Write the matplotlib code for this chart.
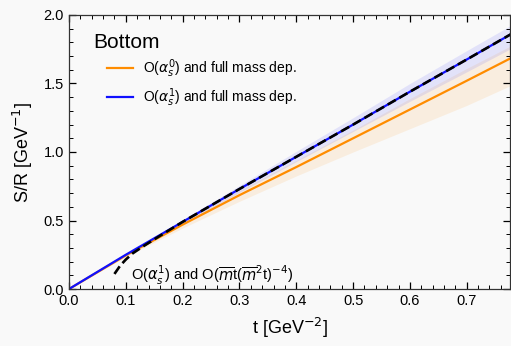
import matplotlib
matplotlib.use("Agg")
import matplotlib.pyplot as plt
from matplotlib.ticker import MultipleLocator

plt.rcParams['font.family'] = ['Liberation Sans', 'DejaVu Sans']
plt.rcParams['mathtext.fontset'] = 'dejavusans'

# values
t = [0.0, 0.1, 0.2, 0.3, 0.4, 0.5, 0.6, 0.7, 0.78]
sr_as0 = [0.0, 0.245, 0.47, 0.685, 0.89, 1.10, 1.31, 1.52, 1.69]
as0_lo = [0.0, 0.235, 0.445, 0.64, 0.825, 1.0, 1.17, 1.34, 1.49]
as0_hi = [0.0, 0.255, 0.49, 0.72, 0.94, 1.16, 1.39, 1.61, 1.78]
sr_as1 = [0.0, 0.25, 0.49, 0.73, 0.965, 1.20, 1.44, 1.675, 1.865]
as1_lo = [0.0, 0.245, 0.475, 0.705, 0.93, 1.15, 1.37, 1.585, 1.76]
as1_hi = [0.0, 0.255, 0.505, 0.755, 1.005, 1.25, 1.50, 1.74, 1.93]

t_exp = [0.08, 0.09, 0.10, 0.112, 0.13, 0.153, 0.2, 0.3, 0.4, 0.5, 0.6, 0.7, 0.78]
sr_exp = [0.11, 0.17, 0.215, 0.26, 0.31, 0.37, 0.49, 0.73, 0.965, 1.20, 1.44, 1.675, 1.865]

bg = '#f9f9f9'
fig = plt.figure(figsize=(5.11, 3.46), dpi=100, facecolor=bg)
ax = fig.add_axes([0.135, 0.1647, 0.864, 0.792])
ax.set_facecolor(bg)

ax.fill_between(t, as0_lo, as0_hi, color='#ff8c00', alpha=0.10, lw=0)
ax.fill_between(t, as1_lo, as1_hi, color='#3030ff', alpha=0.11, lw=0)
ax.plot(t, sr_as0, color='#ff8c00', lw=1.6, label=r'O($\alpha_s^0$) and full mass dep.')
ax.plot(t, sr_as1, color='#1010ff', lw=1.6, label=r'O($\alpha_s^1$) and full mass dep.')
ax.plot(t_exp, sr_exp, color='black', lw=1.9, dashes=(3.5, 1.6))

ax.text(0.11, 0.10, r'O($\alpha_s^1$) and O($\overline{m}$t($\overline{m}^2$t)$^{-4}$)',
        fontsize=10.5, va='center', ha='left')

ax.set_xlim(0, 0.777)
ax.set_ylim(0, 2.0)
ax.xaxis.set_major_locator(MultipleLocator(0.1))
ax.xaxis.set_minor_locator(MultipleLocator(0.02))
ax.yaxis.set_major_locator(MultipleLocator(0.5))
ax.yaxis.set_minor_locator(MultipleLocator(0.1))
ax.tick_params(which='both', direction='in', top=True, right=True, labelsize=10.5)
ax.tick_params(which='major', length=5, width=0.9)
ax.tick_params(which='minor', length=3, width=0.7)
for s in ax.spines.values():
    s.set_linewidth(0.9)
    s.set_color('#333333')

ax.set_xlabel(r't [GeV$^{-2}$]', fontsize=13, labelpad=6)
ax.set_ylabel(r'S/R [GeV$^{-1}$]', fontsize=13, labelpad=6)

ax.text(0.054, 0.901, 'Bottom', transform=ax.transAxes, fontsize=15,
        va='center', ha='left')
leg = ax.legend(loc='upper left', frameon=False, fontsize=10,
                handlelength=1.9, handletextpad=0.7, borderpad=0,
                borderaxespad=0, bbox_to_anchor=(0.086, 0.845),
                labelspacing=0.45)

fig.savefig('out.png', dpi=100, facecolor=bg)
